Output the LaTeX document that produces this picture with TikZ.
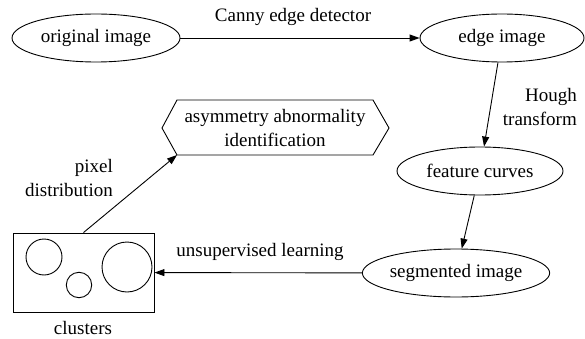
\documentclass[tikz,border=0pt]{standalone}
\usepackage{fontspec}
\setmainfont{Liberation Serif}
\usetikzlibrary{shapes.geometric,arrows.meta}
\begin{document}
\begin{tikzpicture}[x=1pt,y=-1pt,
  every node/.style={font=\fontsize{19}{23.5}\selectfont},
  ell/.style={draw,ellipse,inner sep=0pt,line width=0.9pt},
  arr/.style={-{Triangle[length=10pt,width=7pt]},line width=0.9pt},
  lbl/.style={inner sep=0pt}]
\useasboundingbox (0,0) rectangle (585,339);
\node[ell,minimum width=168pt,minimum height=48pt] (orig) at (96,38) {original image};
\node[ell,minimum width=164pt,minimum height=48pt] (edge) at (502,38) {edge image};
\node[ell,minimum width=166pt,minimum height=48pt] (feat) at (480,171) {feature curves};
\node[ell,minimum width=166pt,minimum height=48pt] (seg) at (456,273) {segmented image};
\node[draw,line width=0.9pt,minimum width=141pt,minimum height=79pt,inner sep=0pt] (clus) at (83.5,272.5) {};
\draw[line width=0.9pt] (44,257) circle (18) (79,285) circle (12.7) (127,267) circle (25);
\node[lbl,anchor=base] (cluslbl) at (83,334) {clusters};
\node[lbl,align=center] (hex) at (275,128) {asymmetry abnormality\\identification};
\draw[line width=0.9pt] (162,128) -- (177,100) -- (373,100) -- (389,128) -- (373,155) -- (177,155) -- cycle;
\coordinate (hexbl) at (177,155);
\draw[arr] (orig) -- (edge);
\node[lbl] (canny) at (293,17) {Canny edge detector};
\draw[arr] (edge) -- (feat);
\node[lbl,align=right,anchor=east] (hough) at (577,107) {Hough\\transform};
\draw[arr] (feat) -- (seg);
\draw[arr] (seg) -- (clus);
\node[lbl] (unsup) at (260,252) {unsupervised learning};
\draw[arr] (clus.north) -- (hexbl);
\node[lbl,align=right,anchor=east] (pix) at (113,178) {pixel\\distribution};
\end{tikzpicture}
\end{document}
